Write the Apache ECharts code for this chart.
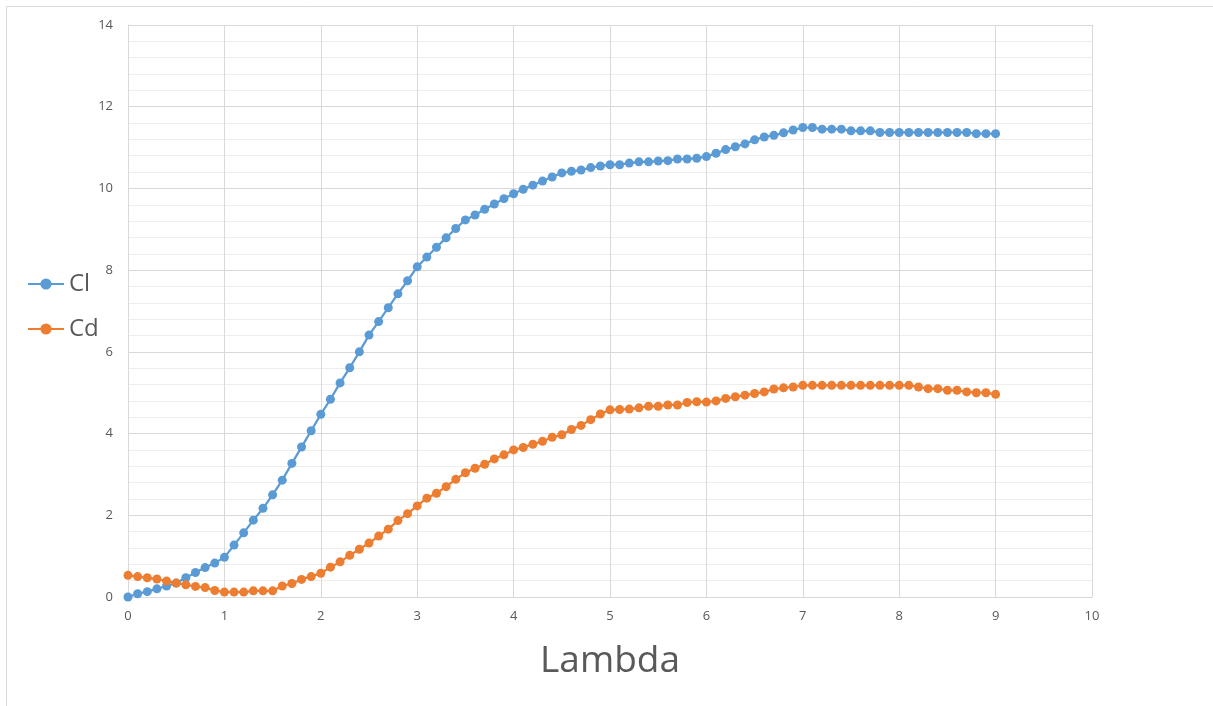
<!DOCTYPE html>
<html>
<head>
<meta charset="utf-8">
<script src="https://cdn.jsdelivr.net/npm/echarts@6/dist/echarts.min.js"></script>
<style>
html,body{margin:0;padding:0;background:#fff;}
#chart{width:1213px;height:706px;}
</style>
</head>
<body>
<div id="chart"></div>
<script>
const lambda = [0,0.1,0.2,0.3,0.4,0.5,0.6,0.7,0.8,0.9,
1,1.1,1.2,1.3,1.4,1.5,1.6,1.7,1.8,1.9,
2,2.1,2.2,2.3,2.4,2.5,2.6,2.7,2.8,2.9,
3,3.1,3.2,3.3,3.4,3.5,3.6,3.7,3.8,3.9,
4,4.1,4.2,4.3,4.4,4.5,4.6,4.7,4.8,4.9,
5,5.1,5.2,5.3,5.4,5.5,5.6,5.7,5.8,5.9,
6,6.1,6.2,6.3,6.4,6.5,6.6,6.7,6.8,6.9,
7,7.1,7.2,7.3,7.4,7.5,7.6,7.7,7.8,7.9,
8,8.1,8.2,8.3,8.4,8.5,8.6,8.7,8.8,8.9,
9];
const clValues = [0.0,0.08,0.13,0.2,0.27,0.34,0.47,0.6,0.72,0.83,
0.97,1.27,1.57,1.88,2.17,2.5,2.86,3.27,3.67,4.07,
4.47,4.84,5.24,5.61,6.0,6.41,6.74,7.08,7.42,7.74,
8.08,8.32,8.56,8.79,9.02,9.23,9.35,9.49,9.62,9.75,
9.87,9.98,10.08,10.18,10.28,10.38,10.42,10.45,10.51,10.55,
10.58,10.58,10.62,10.65,10.65,10.67,10.68,10.72,10.72,10.74,
10.78,10.86,10.95,11.02,11.09,11.19,11.26,11.30,11.36,11.43,
11.49,11.49,11.45,11.45,11.45,11.41,11.41,11.41,11.37,11.37,
11.37,11.37,11.37,11.37,11.37,11.37,11.37,11.37,11.34,11.34,
11.34];
const cdValues = [0.53,0.50,0.47,0.44,0.39,0.34,0.30,0.26,0.23,0.16,
0.12,0.12,0.12,0.15,0.15,0.15,0.27,0.33,0.43,0.50,
0.58,0.73,0.86,1.02,1.17,1.32,1.49,1.66,1.87,2.04,
2.23,2.42,2.54,2.70,2.88,3.04,3.15,3.25,3.38,3.48,
3.60,3.66,3.74,3.81,3.91,3.97,4.10,4.20,4.34,4.48,
4.58,4.59,4.60,4.63,4.67,4.67,4.70,4.70,4.76,4.78,
4.77,4.80,4.86,4.90,4.94,4.98,5.02,5.09,5.12,5.14,
5.18,5.18,5.18,5.18,5.18,5.18,5.18,5.18,5.18,5.18,
5.18,5.18,5.14,5.10,5.10,5.06,5.06,5.02,5.00,5.00,
4.96];
const seriesNames = ['Cl','Cd'];
const xAxisTitle = 'Lambda';

const font = '"Open Sans", "Liberation Sans", sans-serif';
const chart = echarts.init(document.getElementById('chart'), null, {renderer:'canvas'});
const toPairs = vals => lambda.map((x,i)=>[x, vals[i]]);

chart.setOption({
  animation:false,
  backgroundColor:'#ffffff',
  color:['#5B9BD5','#ED7D31'],
  graphic:[{
    type:'rect', silent:true,
    shape:{x:6.5,y:6.5,width:1300,height:800},
    style:{fill:null,stroke:'#d9d9d9',lineWidth:1}
  }],
  legend:{
    orient:'vertical', left:22, top:267,
    itemWidth:36, itemHeight:14, itemGap:21,
    data:seriesNames,
    textStyle:{fontSize:24,color:'#595959',fontFamily:font}
  },
  grid:{left:128,right:121,top:25,bottom:109,containLabel:false},
  xAxis:{
    type:'value', min:0, max:10, interval:1,
    name:xAxisTitle, nameLocation:'middle', nameGap:46,
    nameTextStyle:{fontSize:37,color:'#595959',fontFamily:font},
    axisLine:{show:true,lineStyle:{color:'#d9d9d9',width:1}},
    axisTick:{show:false},
    axisLabel:{color:'#595959',fontSize:13,margin:13,fontFamily:font},
    splitLine:{show:true,lineStyle:{color:'#d9d9d9',width:1}}
  },
  yAxis:{
    type:'value', min:0, max:14, interval:2,
    axisLine:{show:true,lineStyle:{color:'#d9d9d9',width:1}},
    axisTick:{show:false},
    axisLabel:{color:'#595959',fontSize:13,margin:15,fontFamily:font},
    splitLine:{show:true,lineStyle:{color:'#d9d9d9',width:1}},
    minorTick:{show:false,splitNumber:5},
    minorSplitLine:{show:true,lineStyle:{color:'#eeeeee',width:1}}
  },
  series:[
    {name:seriesNames[0],type:'line',data:toPairs(clValues),symbol:'circle',symbolSize:9,
     lineStyle:{width:2.25},itemStyle:{color:'#5B9BD5'}},
    {name:seriesNames[1],type:'line',data:toPairs(cdValues),symbol:'circle',symbolSize:9,
     lineStyle:{width:2.25},itemStyle:{color:'#ED7D31'}}
  ]
});
</script>
</body>
</html>
